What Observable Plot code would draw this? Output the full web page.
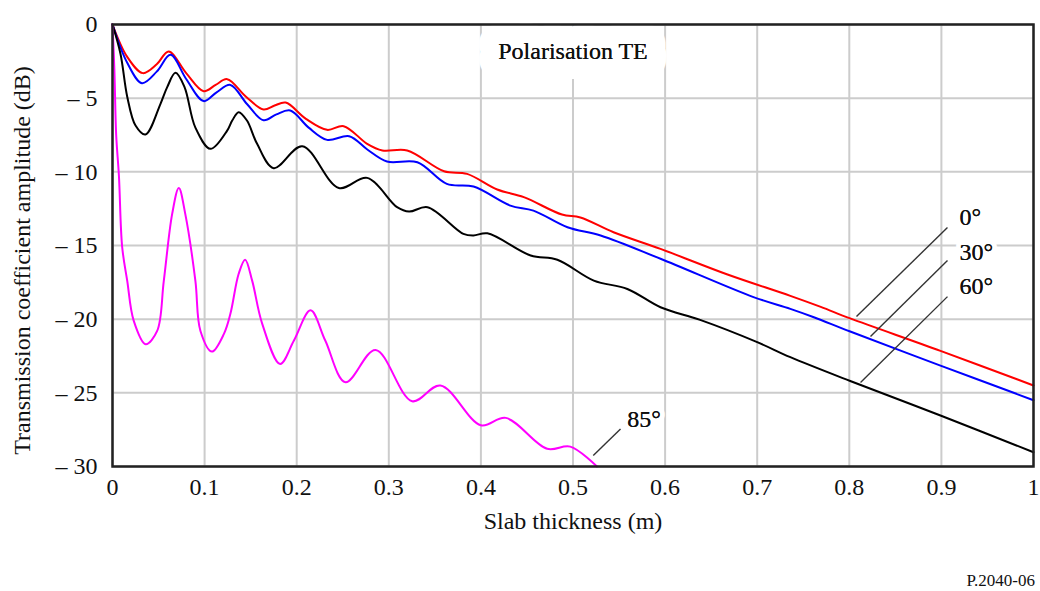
<!DOCTYPE html>
<html>
<head>
<meta charset="utf-8">
<script src="https://cdn.jsdelivr.net/npm/d3@7"></script>
<script src="https://cdn.jsdelivr.net/npm/@observablehq/plot@0.6"></script>
<style>
  html, body { margin: 0; padding: 0; background: #fff; }
  #chart { width: 1040px; }
  #chart svg, #chart svg text { font-family: "Liberation Serif", "Times New Roman", serif !important; }
  #caption { position: relative; width: 1040px; height: 31px; font-family: "Liberation Serif", "Times New Roman", serif; }
  #caption span { position: absolute; right: 5px; top: 12px; font-size: 17px; line-height: 17px; color: #111; }
</style>
</head>
<body>
<div id="chart"></div>
<div id="caption"><span>P.2040-06</span></div>
<script>
// ---- Data ----
const xTicks = [0, 0.1, 0.2, 0.3, 0.4, 0.5, 0.6, 0.7, 0.8, 0.9, 1];
const yTicks = [0, -5, -10, -15, -20, -25, -30];
const angles = ["0°", "30°", "60°", "85°"];
const colors = ["#ff0000", "#0000ff", "#000000", "#ff00ff"];

// [slab thickness (m), transmission coefficient (dB)]
const te0 = [
  [0, 0], [0.016, -2.2], [0.033, -3.3], [0.048, -2.7], [0.061, -1.83], [0.08, -3.3],
  [0.099, -4.53], [0.112, -4.1], [0.1245, -3.71], [0.145, -4.9], [0.164, -5.77],
  [0.176, -5.5], [0.188, -5.3], [0.21, -6.4], [0.233, -7.15], [0.251, -6.9],
  [0.2765, -8.1], [0.293, -8.55], [0.32, -8.55], [0.36, -9.96], [0.385, -10.14],
  [0.4177, -11.2], [0.4466, -11.72], [0.488, -12.9], [0.508, -13.1], [0.544, -14.1],
  [0.595, -15.23], [0.667, -16.95], [0.736, -18.42], [0.769, -19.17], [0.801, -19.95],
  [0.899, -22.15], [1.0, -24.5]
];
const te30 = [
  [0, 0], [0.016, -2.6], [0.032, -3.98], [0.048, -3.2], [0.063, -2.06], [0.08, -3.7],
  [0.099, -5.2], [0.113, -4.6], [0.128, -4.1], [0.146, -5.4], [0.164, -6.5],
  [0.178, -6.1], [0.193, -5.84], [0.213, -7.0], [0.233, -7.83], [0.257, -7.58],
  [0.277, -8.5], [0.298, -9.3], [0.331, -9.35], [0.363, -10.82], [0.392, -11.0],
  [0.432, -12.29], [0.457, -12.63], [0.494, -13.76], [0.53, -14.32], [0.595, -15.9],
  [0.696, -18.5], [0.736, -19.3], [0.7615, -19.87], [0.801, -20.84], [0.899, -23.15],
  [1.0, -25.5]
];
const te60 = [
  [0, 0], [0.0087, -2.0], [0.016, -4.9], [0.025, -6.86], [0.0358, -7.47], [0.052, -5.4],
  [0.0594, -4.25], [0.0684, -3.28], [0.0782, -4.25], [0.09, -7.0], [0.1064, -8.44],
  [0.1245, -7.2], [0.13, -6.52], [0.137, -5.95], [0.146, -6.52],
  [0.157, -8.1], [0.175, -9.75], [0.206, -8.26], [0.2457, -11.1], [0.2765, -10.41],
  [0.309, -12.4], [0.322, -12.7], [0.342, -12.4], [0.381, -14.21], [0.392, -14.32],
  [0.407, -14.17], [0.454, -15.68], [0.483, -15.97], [0.5226, -17.38], [0.559, -17.95],
  [0.595, -19.19], [0.638, -20.05], [0.7, -21.56], [0.736, -22.58], [0.801, -24.2],
  [0.899, -26.54], [1.0, -29.03]
];
const te85 = [
  [0, 0], [0.002, -3], [0.004, -7.5], [0.007, -10.3], [0.0105, -15.1], [0.016, -17.4],
  [0.023, -20.1], [0.036, -21.7], [0.0485, -20.8], [0.0557, -17.4], [0.0648, -12.85],
  [0.072, -11.1], [0.079, -12.85], [0.09, -17.4], [0.0955, -20.8], [0.108, -22.2],
  [0.121, -21.0], [0.128, -19.64], [0.137, -16.92], [0.144, -15.96], [0.1517, -17.4],
  [0.1625, -20.3], [0.182, -23.04], [0.197, -21.45], [0.215, -19.4], [0.231, -21.45],
  [0.253, -24.28], [0.2856, -22.09], [0.3254, -25.57], [0.356, -24.5], [0.4, -27.2],
  [0.427, -26.7], [0.472, -28.8], [0.497, -28.65], [0.526, -30]
];
const series = [te0, te30, te60, te85];

// Annotations (data coordinates)
const panelTitle = [{x: 0.5, y: -1.8, text: "Polarisation TE"}];
const labelAt = [[0.9197, -13.1], [0.9197, -15.45], [0.9197, -17.8], [0.559, -26.8]];
const leaderStart = [[0.9066, -13.78], [0.9066, -16.02], [0.9066, -18.47], [0.5516, -27.45]];
const leaderEnd = [[0.8078, -19.82], [0.823, -21.18], [0.8122, -24.3], [0.522, -29.26]];

// ---- Build tables ----
const rows = series.flatMap((s, i) => s.map(([x, y]) => ({x, y, angle: angles[i]})));
const labels = angles.map((a, i) => ({
  text: a, x: labelAt[i][0], y: labelAt[i][1],
  x1: leaderStart[i][0], y1: leaderStart[i][1], x2: leaderEnd[i][0], y2: leaderEnd[i][1]
}));

const FONT = "'Liberation Serif', 'Times New Roman', serif";
const fmtY = d => d === 0 ? "0" : "\u2013 " + Math.abs(d);

const chart = Plot.plot({
  width: 1040,
  height: 560,
  marginLeft: 112,
  marginRight: 7,
  marginTop: 24,
  marginBottom: 94,
  style: {fontFamily: FONT, fontSize: "24px", background: "#fff", color: "#111", overflow: "visible"},
  x: {domain: [0, 1], label: null},
  y: {domain: [-30, 0], label: null},
  color: {domain: angles, range: colors},
  marks: [
    Plot.gridX(xTicks, {stroke: "#cccccc", strokeOpacity: 1, strokeWidth: 2}),
    Plot.gridY(yTicks, {stroke: "#cccccc", strokeOpacity: 1, strokeWidth: 2}),
    Plot.text(panelTitle, {x: "x", y: "y", text: "text", fontFamily: FONT, fontSize: 24, fill: "#111", stroke: "#fff", strokeWidth: 40, strokeLinejoin: "round"}),
    Plot.text(panelTitle, {x: "x", y: "y", text: "text", fontFamily: FONT, fontSize: 24, fill: "#111"}),
    Plot.text(labels, {x: "x", y: "y", text: "text", textAnchor: "start", fontFamily: FONT, fontSize: 24, fill: "#111", stroke: "#fff", strokeWidth: 10, strokeLinejoin: "round"}),
    Plot.text(labels, {x: "x", y: "y", text: "text", textAnchor: "start", fontFamily: FONT, fontSize: 24, fill: "#111"}),
    Plot.line(rows, {x: "x", y: "y", z: "angle", stroke: "angle", curve: "catmull-rom", strokeWidth: 2}),
    Plot.link(labels, {x1: "x1", y1: "y1", x2: "x2", y2: "y2", stroke: "#333", strokeWidth: 1.4}),
    Plot.frame({stroke: "#222", strokeWidth: 2.5}),
    Plot.axisX(xTicks, {tickSize: 0, tickPadding: 11, tickFormat: d3.format("~g"), fontFamily: FONT, fontSize: 24, label: null}),
    Plot.axisY(yTicks, {tickSize: 0, tickPadding: 15, tickFormat: fmtY, fontFamily: FONT, fontSize: 24, label: null}),
    Plot.text(["Slab thickness (m)"], {frameAnchor: "bottom", textAnchor: "middle", dy: 62, fontFamily: FONT, fontSize: 24, fill: "#111"}),
    Plot.text(["Transmission coefficient amplitude (dB)"], {frameAnchor: "left", textAnchor: "middle", rotate: -90, dx: -90, dy: 15, fontFamily: FONT, fontSize: 24, fill: "#111"})
  ]
});
document.getElementById("chart").appendChild(chart);
</script>
</body>
</html>
